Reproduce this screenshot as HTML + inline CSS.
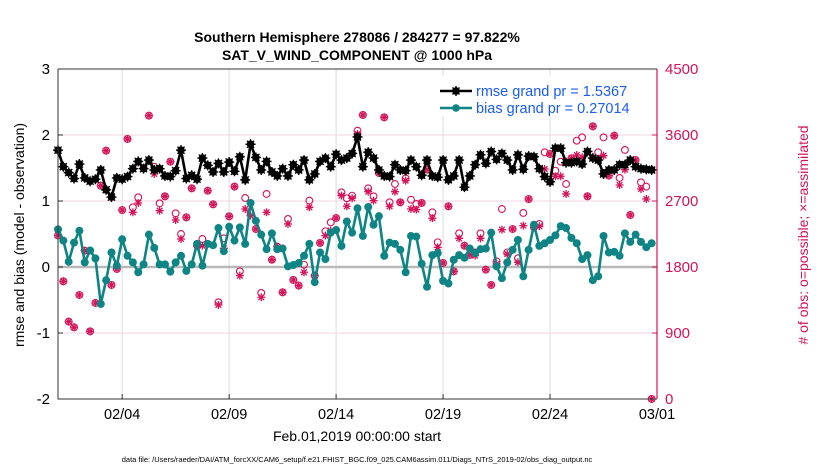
<!DOCTYPE html>
<html><head><meta charset="utf-8"><style>
body{margin:0;background:#fff;}
svg{display:block;font-family:"Liberation Sans",Arial,sans-serif;}
</style></head><body>
<svg id="chart" width="830" height="470" viewBox="0 0 830 470" xmlns="http://www.w3.org/2000/svg">
<rect x="0" y="0" width="830" height="470" fill="#fff"/>
<text x="357" y="42" text-anchor="middle" font-size="14" font-weight="bold">Southern Hemisphere 278086 / 284277 = 97.822%</text>
<text x="357" y="60" text-anchor="middle" font-size="14" font-weight="bold">SAT_V_WIND_COMPONENT @ 1000 hPa</text>
<g id="grid"></g>
<g id="marks"></g>
<g id="axes"></g>
<text transform="translate(24,235) rotate(-90)" text-anchor="middle" font-size="14">rmse and bias (model - observation)</text>
<text transform="translate(808,235) rotate(-90)" text-anchor="middle" font-size="14" fill="#d4145a"># of obs: o=possible; ×=assimilated</text>
<text x="357" y="441" text-anchor="middle" font-size="14">Feb.01,2019 00:00:00 start</text>
<text x="357" y="462" text-anchor="middle" font-size="7.5">data file: /Users/raeder/DAI/ATM_forcXX/CAM6_setup/f.e21.FHIST_BGC.f09_025.CAM6assim.011/Diags_NTrS_2019-02/obs_diag_output.nc</text>
<g id="legend"></g>
</svg>
<script>
const rmse=[1.77,1.52,1.43,1.34,1.56,1.35,1.30,1.33,1.47,1.17,1.06,1.35,1.33,1.37,1.49,1.60,1.49,1.62,1.47,1.49,1.38,1.37,1.46,1.77,1.34,1.39,1.33,1.65,1.54,
1.44,1.57,1.44,1.59,1.45,1.67,1.32,1.86,1.66,1.47,1.60,1.44,1.38,1.49,1.38,1.55,1.47,1.62,1.32,1.41,1.60,1.65,1.52,1.71,1.62,1.65,1.72,
1.97,1.52,1.74,1.65,1.47,1.38,1.37,1.55,1.47,1.46,1.62,1.52,1.39,1.62,1.38,1.36,1.62,1.32,1.38,1.62,1.21,1.38,1.55,1.70,1.57,1.75,1.63,1.72,
1.62,1.47,1.70,1.48,1.68,1.67,1.49,1.37,1.29,1.80,1.80,1.58,1.58,1.60,1.56,1.75,1.65,1.62,1.41,1.47,1.47,1.55,1.55,1.62,1.52,1.49,1.48,1.47];
const bias=[0.57,0.40,0.08,0.37,0.55,0.07,0.25,0.13,-0.56,-0.20,0.22,0.02,0.42,0.17,0.07,-0.08,0.04,0.49,0.29,0.04,0.04,-0.07,0.07,0.17,-0.06,0.04,0.35,0.02,0.35,
0.33,0.59,0.24,0.61,0.40,0.60,0.35,0.97,0.70,0.49,0.27,0.51,0.27,0.28,0.01,0.03,0.06,0.17,0.35,-0.23,0.22,0.12,0.52,0.56,0.32,0.69,0.52,
0.89,0.47,0.91,0.64,0.77,0.17,0.37,0.35,0.26,-0.08,0.47,0.46,0.05,-0.30,0.18,0.21,-0.21,-0.25,0.11,0.18,0.14,0.28,0.21,0.27,0.28,0.52,0.01,-0.17,
0.07,0.26,0.41,-0.14,0.26,0.64,0.32,0.36,0.41,0.48,0.62,0.59,0.44,0.36,0.12,0.18,-0.20,-0.14,0.47,0.22,0.23,0.17,0.51,0.38,0.49,0.38,0.30,0.36];
const nPoss=[2230,1605,1055,978,1418,2023,923,1309,2909,3386,1555,1773,2577,3546,2614,2750,3150,3864,3168,2668,2764,3236,2532,2250,2477,2873,2091,2182,2841,
2655,1318,2191,2491,2896,1741,2741,2537,2318,1446,2796,1900,2078,1455,2455,1623,1546,1832,2705,1682,2128,2287,2409,2468,2818,2737,2773,
3659,3873,2873,2764,3082,3841,2682,2932,2682,3009,2718,2659,2673,3127,2546,2137,1855,2628,1741,2259,2091,1964,1999,2259,1764,1555,1877,2591,
1999,2318,1918,2537,2727,2341,2387,3364,3341,3114,3236,2932,3282,3523,3568,2764,3718,3364,3568,3046,3591,3014,3396,2509,3259,2955,2896,0];
const nUsed=[2230,1605,1055,978,1418,2023,923,1309,2909,3386,1555,1773,2577,3546,2546,2673,3150,3864,3068,2568,2764,3236,2441,2182,2477,2873,2091,2091,2841,
2655,1282,2055,2491,2896,1682,2591,2500,2318,1387,2546,1900,2078,1455,2387,1623,1546,1728,2614,1682,2128,2227,2296,2468,2773,2628,2737,
3614,3873,2827,2705,3082,3841,2628,2827,2682,2977,2591,2582,2673,3127,2464,2068,1855,2628,1741,2191,2091,1964,1955,2191,1764,1555,1841,2309,
1977,2318,1864,2364,2727,2341,2355,3136,3341,3037,3037,2796,3282,3327,3296,2764,3718,3273,3318,3046,3591,2918,3127,2509,3259,2864,2727,0];
const yTicks=[-2,-1,0,1,2,3];
const y2Ticks=[0,900,1800,2700,3600,4500];
const xTickLabels=['02/04','02/09','02/14','02/19','02/24','03/01'];
const xTickDays=[3,8,13,18,23,28];

const X0=58,X1=657,Y0=399,Y1=69;
const sx=d=>X0+(d/28)*(X1-X0);
const sy=v=>Y0-(v+2)/5*(Y0-Y1);
const sy2=n=>Y0-n/4500*(Y0-Y1);
const tOf=i=>i*0.25;
const NS='http://www.w3.org/2000/svg';
function mk(tag,attrs,parent){const e=document.createElementNS(NS,tag);for(const k in attrs)e.setAttribute(k,attrs[k]);parent.appendChild(e);return e;}
const grid=document.getElementById('grid'),marks=document.getElementById('marks'),axes=document.getElementById('axes'),legend=document.getElementById('legend');
const MAG='#d4145a',TEAL='#0e8484';

xTickDays.forEach((d,k)=>{
  const g=mk('line',{x1:sx(d),x2:sx(d),y1:Y1,y2:Y0,stroke:'#dcdcdc','stroke-width':1},grid);
  
  
  const t=mk('line',{x1:sx(d),x2:sx(d),y1:Y0,y2:Y0-5,stroke:'#333'},axes);
  
  
  const l=mk('text',{x:sx(d),y:Y0+20,'text-anchor':'middle','font-size':14.5},axes);
  l.textContent=xTickLabels[k];
  
  
});
yTicks.forEach(v=>{
  const g=mk('line',{x1:X0,x2:X1,y1:sy(v),y2:sy(v),stroke:'#f0d6e0','stroke-width':1},grid);
  
  
  const t=mk('line',{x1:X0,x2:X0+5,y1:sy(v),y2:sy(v),stroke:'#333'},axes);
  
  
  const l=mk('text',{x:X0-8,y:sy(v)+5,'text-anchor':'end','font-size':15},axes);
  l.textContent=v;
  
  
});
y2Ticks.forEach(n=>{
  const t=mk('line',{x1:X1,x2:X1-5,y1:sy2(n),y2:sy2(n),stroke:MAG},axes);
  
  
  const l=mk('text',{x:X1+8,y:sy2(n)+5,'text-anchor':'start','font-size':15,fill:MAG},axes);
  l.textContent=n;
  
  
});
const zl=mk('line',{x1:X0,x2:X1,y1:sy(0),y2:sy(0),stroke:'#b8b8b8','stroke-width':2.5},grid);


const axL=mk('path',{d:`M${X0},${Y1}V${Y0}H${X1}M${X0},${Y1}H${X1}`,stroke:'#333',fill:'none','stroke-width':1},axes);


const axR=mk('line',{x1:X1,x2:X1,y1:Y1,y2:Y0,stroke:MAG,'stroke-width':1.2},axes);



function star(x,y,r,col,parent,w){
  let d='';for(let a=0;a<4;a++){const an=a*Math.PI/4;d+=`M${x-r*Math.cos(an)},${y-r*Math.sin(an)}L${x+r*Math.cos(an)},${y+r*Math.sin(an)}`;}
  return mk('path',{d:d,stroke:col,'stroke-width':w||1.2,fill:'none'},parent);
}
nPoss.forEach((n,i)=>{
  const c=mk('circle',{cx:sx(tOf(i)),cy:sy2(n),r:3.4,fill:'none',stroke:MAG,'stroke-width':1.1},marks);
  
  
});
nUsed.forEach((n,i)=>{
  const s=star(sx(tOf(i)),sy2(n),4,MAG,marks,1.3);
  
  
});
const bl=mk('polyline',{points:bias.map((v,i)=>sx(tOf(i))+','+sy(v)).join(' '),fill:'none',stroke:TEAL,'stroke-width':2.6},marks);


bias.forEach((v,i)=>{
  const c=mk('circle',{cx:sx(tOf(i)),cy:sy(v),r:4,fill:TEAL},marks);
  
  
});
const rl=mk('polyline',{points:rmse.map((v,i)=>sx(tOf(i))+','+sy(v)).join(' '),fill:'none',stroke:'#000','stroke-width':2.6},marks);


rmse.forEach((v,i)=>{
  const c=mk('circle',{cx:sx(tOf(i)),cy:sy(v),r:3.8,fill:'#000'},marks);
  
  
  const s=star(sx(tOf(i)),sy(v),5,'#000',marks,1.4);
  
  
});
const lb=mk('rect',{x:433,y:76,width:214,height:40,fill:'#fff',stroke:'none'},legend);


[['rmse grand pr = 1.5367','#000',91,'legend-rmse'],['bias grand pr = 0.27014',TEAL,108,'legend-bias']].forEach(e=>{
  const g=mk('g',{},legend);
  
  
  mk('line',{x1:440,x2:472,y1:e[2],y2:e[2],stroke:e[1],'stroke-width':2.6},g);
  mk('circle',{cx:456,cy:e[2],r:3.8,fill:e[1]},g);
  if(e[1]==='#000')star(456,e[2],5,'#000',g,1.4);
  const t=mk('text',{x:476,y:e[2]+5,'font-size':14.5,fill:'#1a5cf0'},g);
  t.textContent=e[0];
});
</script>
</body></html>
